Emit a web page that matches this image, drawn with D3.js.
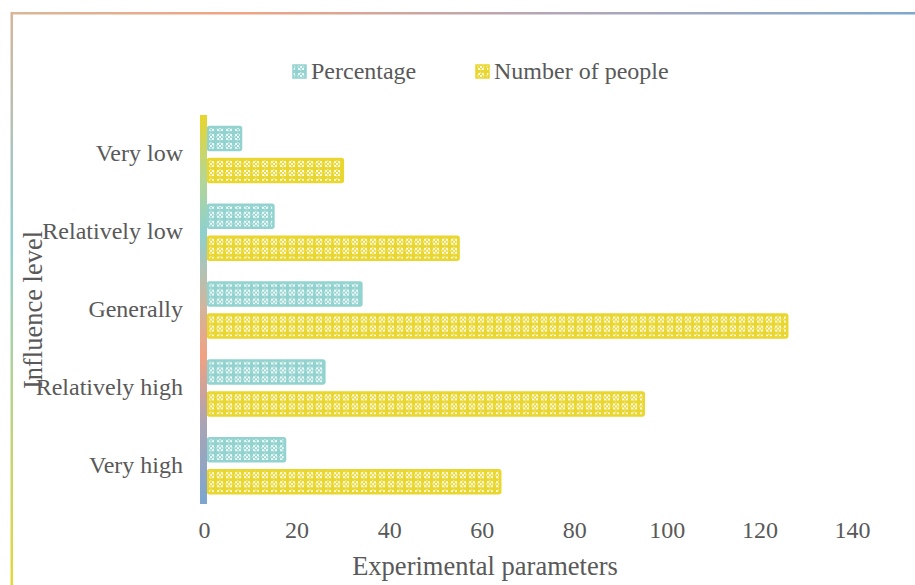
<!DOCTYPE html>
<html>
<head>
<meta charset="utf-8">
<script src="https://cdn.jsdelivr.net/npm/d3@7"></script>
<style>
  body { margin: 0; background: #fff; }
  text { font-family: "Liberation Serif", "Times New Roman", serif; fill: #595959; }
</style>
</head>
<body>
<div class="container"></div>
<script>
const categories = ['Very low', 'Relatively low', 'Generally', 'Relatively high', 'Very high'];
const percentage = [8, 15, 34, 26, 17.5];
const numberOfPeople = [30, 55, 126, 95, 64];
const seriesNames = ['Percentage', 'Number of people'];
const xTicks = [0, 20, 40, 60, 80, 100, 120, 140];

const width = 915;
const height = 585;

const svg = d3.select('.container')
    .append('svg')
    .attr('width', width)
    .attr('height', height);

const defs = svg.append('defs');

// gradient helpers
function grad(id, x2, y2, stops) {
  const g = defs.append('linearGradient').attr('id', id)
      .attr('x1', 0).attr('y1', 0).attr('x2', x2).attr('y2', y2);
  stops.forEach(s => g.append('stop').attr('offset', s[0]).attr('stop-color', s[1]));
}
grad('topBorder', 1, 0, [[0, '#d9b797'], [0.25, '#f0a482'], [0.6, '#b3a6b6'], [1, '#7ea8d0']]);
grad('leftBorder', 0, 1, [[0, '#d6b59b'], [0.4, '#8fd0cf'], [1, '#e5d838']]);
grad('axisBar', 0, 1, [[0, '#e8d52a'], [0.15, '#b8d68e'], [0.3, '#8ed0cd'], [0.5, '#d3b49b'], [0.62, '#f1a181'], [0.8, '#a8a4b6'], [1, '#7ca6cf']]);

// fill patterns
function pat(id, base) {
  const p = defs.append('pattern').attr('id', id)
      .attr('patternUnits', 'userSpaceOnUse').attr('width', 9).attr('height', 9);
  p.append('rect').attr('width', 9).attr('height', 9).attr('fill', base);
  const w = '#ffffff';
  [[1, 1], [5, 1], [3, 3], [1, 5], [5, 5]].forEach(d => {
    p.append('rect').attr('x', d[0]).attr('y', d[1]).attr('width', 2).attr('height', 2).attr('fill', w).attr('opacity', 0.85);
  });
  [[3, 0], [0, 3], [6, 3], [3, 6]].forEach(d => {
    p.append('rect').attr('x', d[0]).attr('y', d[1]).attr('width', 1.5).attr('height', 1.5).attr('fill', w).attr('opacity', 0.5);
  });
}
pat('patTeal', '#93d3cf');
pat('patYellow', '#e9d62e');
const colors = ['#93d3cf', '#e9d62e'];
const fills = ['url(#patTeal)', 'url(#patYellow)'];

// chart border
svg.append('rect').attr('x', 11).attr('y', 12).attr('width', width - 11).attr('height', 2.5)
    .attr('fill', 'url(#topBorder)');
svg.append('rect').attr('x', 10.5).attr('y', 12).attr('width', 2.5).attr('height', height - 12)
    .attr('fill', 'url(#leftBorder)');

const x = d3.scaleLinear().domain([0, 140]).range([204, 852]);
const y = d3.scaleBand().domain(categories).range([115, 504]);
const inner = d3.scaleBand().domain([0, 1]).range([12, 67]).paddingInner(0.28);

// bars
const rows = categories.map((c, i) => ({ c, vals: [percentage[i], numberOfPeople[i]] }));
const groups = svg.selectAll('g.cat').data(rows).enter().append('g')
    .attr('class', 'cat')
    .attr('transform', d => `translate(0, ${y(d.c)})`);

groups.selectAll('rect').data(d => d.vals).enter().append('rect')
    .attr('x', x(0) + 4)
    .attr('y', (d, i) => inner(i))
    .attr('width', d => x(d) - x(0) - 4)
    .attr('height', inner.bandwidth())
    .attr('rx', 1.5)
    .attr('fill', (d, i) => fills[i])
    .attr('stroke', (d, i) => colors[i])
    .attr('stroke-width', 2.5);

// y axis bar
svg.append('rect')
    .attr('x', 200).attr('y', y.range()[0])
    .attr('width', 7).attr('height', y.range()[1] - y.range()[0])
    .attr('fill', 'url(#axisBar)');

// category labels
svg.selectAll('text.cat').data(categories).enter().append('text')
    .attr('class', 'cat')
    .attr('x', 183)
    .attr('y', d => y(d) + y.bandwidth() / 2 + 2)
    .attr('text-anchor', 'end')
    .attr('dominant-baseline', 'middle')
    .style('font-size', '24px')
    .text(d => d);

// x tick labels
const xAxis = d3.axisBottom(x).tickValues(xTicks).tickSize(0).tickPadding(0);
const xg = svg.append('g').attr('transform', 'translate(0, 521)').call(xAxis);
xg.select('.domain').remove();
xg.selectAll('text').style('font-size', '24px').style('font-family', '"Liberation Serif", serif').attr('fill', '#595959');

// axis titles
svg.append('text').attr('x', 485).attr('y', 575).attr('text-anchor', 'middle')
    .style('font-size', '26.5px').text('Experimental parameters');
svg.append('text').attr('transform', 'translate(42, 310) rotate(-90)').attr('text-anchor', 'middle')
    .style('font-size', '26.5px').text('Influence level');

// legend
const legend = [{ x: 293, name: seriesNames[0] }, { x: 476, name: seriesNames[1] }];
legend.forEach((l, i) => {
  svg.append('rect').attr('x', l.x).attr('y', 65).attr('width', 13).attr('height', 13)
      .attr('fill', fills[i]).attr('stroke', colors[i]).attr('stroke-width', 1.5);
  svg.append('text').attr('x', l.x + 18).attr('y', 79).style('font-size', '24px').text(l.name);
});
</script>
</body>
</html>
